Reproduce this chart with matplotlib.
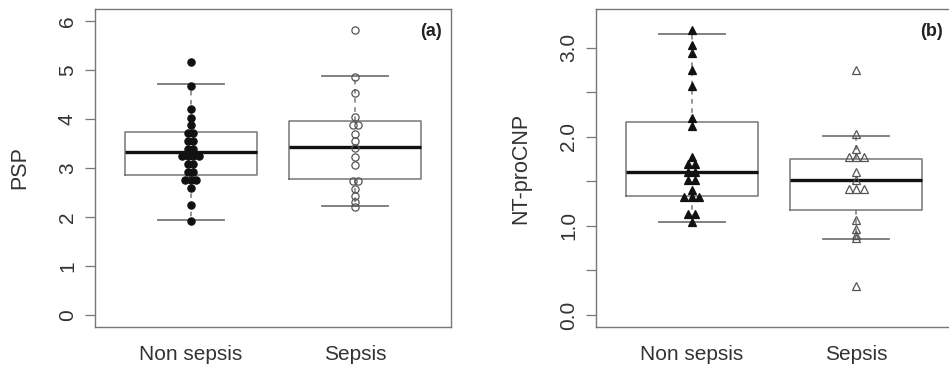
import numpy as np
import matplotlib
matplotlib.use('Agg')
import matplotlib.pyplot as plt

plt.rcParams['font.family'] = ['Liberation Sans', 'DejaVu Sans']

# ---- data ----
groups = ['Non sepsis', 'Sepsis']

psp_non = [5.17, 4.68, 4.20, 4.03, 3.87, 3.71, 3.71, 3.55, 3.55, 3.39, 3.39,
           3.24, 3.24, 3.24, 3.24, 3.08, 3.08, 2.92, 2.92, 2.75, 2.75, 2.75,
           2.59, 2.24, 1.92]
psp_sep = [5.82, 4.86, 4.53, 4.04, 3.87, 3.87, 3.70, 3.55, 3.40, 3.22, 3.07,
           2.73, 2.73, 2.58, 2.43, 2.30, 2.21]

nt_non = [3.20, 3.03, 2.94, 2.75, 2.57, 2.21, 2.12, 1.77, 1.69, 1.69, 1.60,
          1.60, 1.51, 1.51, 1.40, 1.32, 1.32, 1.32, 1.13, 1.13, 1.04]
nt_sep = [2.75, 2.03, 1.86, 1.77, 1.77, 1.77, 1.60, 1.51, 1.41, 1.41, 1.41,
          1.07, 0.97, 0.90, 0.86, 0.33]

# box statistics (hinges / median / whisker ends) as drawn
psp_med = [3.32, 3.42]
psp_q1 = [2.85, 2.77]
psp_q3 = [3.735, 3.95]
psp_lo = [1.93, 2.22]
psp_hi = [4.72, 4.885]

nt_med = [1.60, 1.51]
nt_q1 = [1.335, 1.178]
nt_q3 = [2.17, 1.746]
nt_lo = [1.04, 0.856]
nt_hi = [3.16, 2.012]

psp_ticks = [0, 1, 2, 3, 4, 5, 6]
nt_ticks = [0.0, 0.5, 1.0, 1.5, 2.0, 2.5, 3.0]

# ---- layout ----
W, H = 949, 369
fig = plt.figure(figsize=(W / 100, H / 100), dpi=100)
axw = 356 / W
axh = 317.4 / H
ax1 = fig.add_axes([95 / W, 1 - 326.7 / H, axw, axh])
ax2 = fig.add_axes([596 / W, 1 - 326.7 / H, axw, axh])

XLIM = (0.42, 2.58)
GRAY = '#777777'
TXT = '#333333'


def row_offsets(vals, d):
    # tied values sit side by side, centred on the group position (pixels)
    vals = np.asarray(vals, float)
    off = np.zeros(len(vals))
    for v in np.unique(vals):
        idx = np.where(vals == v)[0]
        n = len(idx)
        off[idx] = (np.arange(n) - (n - 1) / 2) * d
    return off


def panel(ax, data, med, q1, q3, lo, hi, ylim, ticks, ticklabels, ylabel, tag,
          marker, msize, spacing):
    stats = [dict(med=med[i], q1=q1[i], q3=q3[i], whislo=lo[i], whishi=hi[i],
                  fliers=[], label=groups[i]) for i in range(2)]
    ax.bxp(stats, positions=[1, 2], widths=0.8, capwidths=0.4, showfliers=False,
           boxprops=dict(color=GRAY, lw=1.1),
           whiskerprops=dict(color=GRAY, lw=1.1, ls=(0, (3, 3))),
           capprops=dict(color=GRAY, lw=1.3),
           medianprops=dict(color='#111111', lw=2.4))
    ax.set_xlim(*XLIM)
    ax.set_ylim(*ylim)

    ppu_x = 356 / (XLIM[1] - XLIM[0])
    for i, vals in enumerate(data):
        off = row_offsets(vals, spacing) / ppu_x
        filled = i == 0
        ax.plot(1 + i + off, vals, ls='none', marker=marker, ms=msize,
                mfc='#111111' if filled else 'none',
                mec='#111111' if filled else '#555555', mew=0.9, zorder=5)

    ax.set_xticks([1, 2])
    ax.set_xticklabels(groups, fontsize=15, color=TXT)
    ax.tick_params(axis='x', length=0, pad=13)
    ax.set_yticks(ticks)
    ax.set_yticklabels(ticklabels, rotation=90, va='center', fontsize=15, color=TXT)
    ax.tick_params(axis='y', length=7, width=0.9, color=GRAY, pad=6)
    ax.set_ylabel(ylabel, fontsize=15.5, color=TXT, labelpad=20)
    for s in ax.spines.values():
        s.set_color(GRAY)
        s.set_linewidth(1.0)
    ax.text(0.975, 0.93, tag, transform=ax.transAxes, ha='right', va='center',
            fontsize=13, fontweight='bold', color='#222222')


panel(ax1, [psp_non, psp_sep], psp_med, psp_q1, psp_q3, psp_lo, psp_hi,
      (-0.24, 6.24), psp_ticks, [str(t) for t in psp_ticks], 'PSP', '(a)',
      'o', 5.2, 5.6)
panel(ax2, [nt_non, nt_sep], nt_med, nt_q1, nt_q3, nt_lo, nt_hi,
      (-0.132, 3.432), nt_ticks,
      ['%.1f' % t if t == int(t) else '' for t in nt_ticks], 'NT-proCNP', '(b)',
      '^', 6.0, 7.8)

fig.savefig('out.png', dpi=100)
